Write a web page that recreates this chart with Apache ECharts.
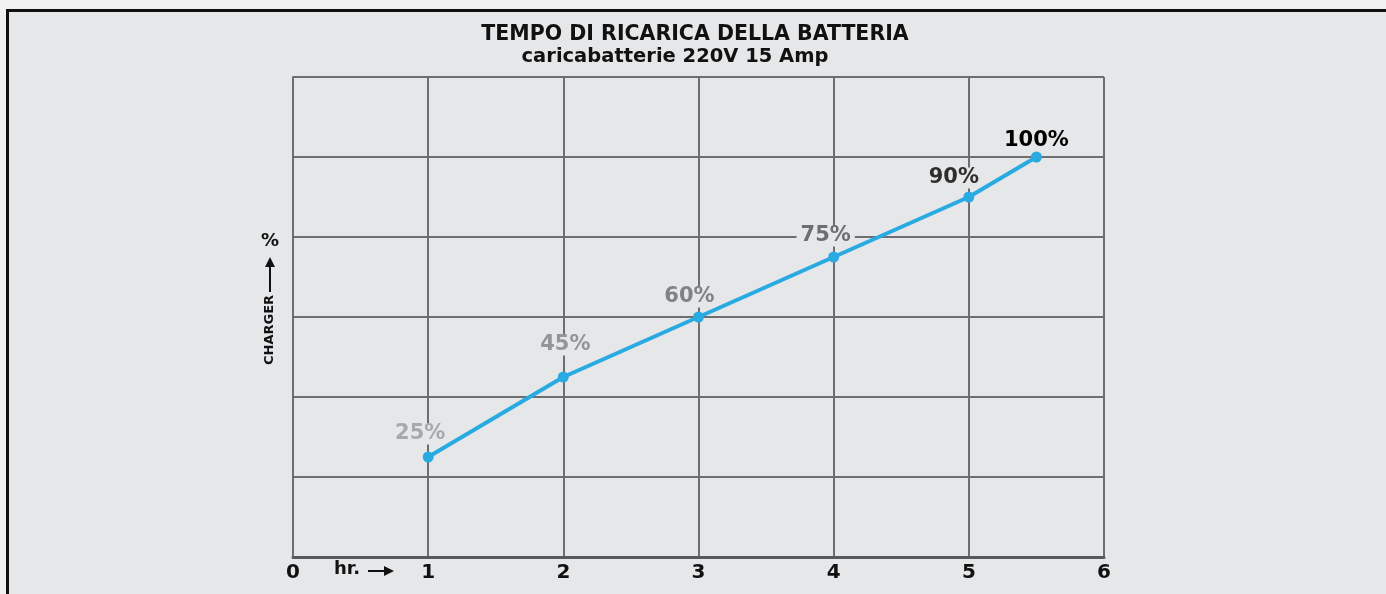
<!DOCTYPE html>
<html>
<head>
<meta charset="utf-8">
<script src="https://cdn.jsdelivr.net/npm/echarts@6/dist/echarts.min.js"></script>
<style>
html,body{margin:0;padding:0;background:#f2f2f2;}
#c{width:1386px;height:594px;}
</style>
</head>
<body>
<div id="c"></div>
<script>
var titleText = 'TEMPO DI RICARICA DELLA BATTERIA';
var subtitleText = 'caricabatterie 220V 15 Amp';
var hours = [1, 2, 3, 4, 5, 5.5];
var chargePct = [25, 45, 60, 75, 90, 100];
var xTickLabels = ['0', '1', '2', '3', '4', '5', '6'];
var yAxisName = 'CHARGER';
var xAxisName = 'hr.';

var labelColors = ['#a7a9ac', '#939598', '#808285', '#6d6e71', '#2e2e2e', '#000000'];
var labelOffsets = [[-8, -3], [2, -12], [-9, 0], [-8, -1], [-15, 1], [0, 4]];

var bg = '#e6e7e9';
var chart = echarts.init(document.getElementById('c'));
var font = '"DejaVu Sans", sans-serif';

var lineData = hours.map(function (h, i) { return [h, chargePct[i]]; });
var labelData = hours.map(function (h, i) {
  return {
    value: [h, chargePct[i]],
    label: {
      color: labelColors[i],
      offset: labelOffsets[i]
    }
  };
});

chart.setOption({
  backgroundColor: bg,
  animation: false,
  grid: { left: 293, right: 282, top: 77, bottom: 37, containLabel: false },
  xAxis: {
    type: 'value', min: 0, max: 6, interval: 1,
    axisLine: { show: true, lineStyle: { color: '#58595b', width: 3 } },
    axisTick: { show: false },
    splitLine: { show: true, lineStyle: { color: '#6d6e70', width: 2 } },
    axisLabel: {
      color: '#111', fontSize: 20, fontWeight: 'bold', fontFamily: font, margin: 6,
      formatter: function (v) { return xTickLabels[Math.round(v)]; }
    }
  },
  yAxis: {
    type: 'value', min: 0, max: 120, interval: 20,
    axisLine: { show: true, lineStyle: { color: '#6d6e70', width: 2 } },
    axisTick: { show: false },
    axisLabel: { show: false },
    splitLine: { show: true, lineStyle: { color: '#6d6e70', width: 2 } }
  },
  series: [{
    type: 'scatter',
    data: labelData,
    symbolSize: 11,
    itemStyle: { color: 'rgba(0,0,0,0)', opacity: 1 },
    silent: true,
    label: {
      show: true, position: 'top', distance: 4, opacity: 1,
      fontSize: 21, fontWeight: 'bold', fontFamily: font,
      backgroundColor: bg, padding: [0, 4],
      formatter: function (p) { return p.value[1] + '%'; }
    },
    z: 3,
    zlevel: 0
  }, {
    type: 'line',
    data: lineData,
    symbol: 'circle',
    symbolSize: 11,
    lineStyle: { color: '#29abe2', width: 4 },
    itemStyle: { color: '#29abe2' },
    label: { show: false },
    z: 10,
    zlevel: 1
  }],
  graphic: [
    { type: 'text', x: 695, y: 35, style: { text: titleText, fill: '#111', font: 'bold 20.5px ' + font, textAlign: 'center', textVerticalAlign: 'middle' } },
    { type: 'text', x: 675, y: 57, style: { text: subtitleText, fill: '#111', font: 'bold 19.5px ' + font, textAlign: 'center', textVerticalAlign: 'middle' } },
    { type: 'text', x: 334, y: 569, style: { text: xAxisName, fill: '#111', font: 'bold 18px ' + font, textVerticalAlign: 'middle' } },
    { type: 'line', shape: { x1: 368, y1: 571, x2: 386, y2: 571 }, style: { stroke: '#111', lineWidth: 2 } },
    { type: 'polygon', shape: { points: [[394, 571], [384, 566], [384, 576]] }, style: { fill: '#111' } },
    { type: 'text', x: 270, y: 365, rotation: Math.PI / 2, style: { text: yAxisName, fill: '#111', font: 'bold 13px ' + font, textAlign: 'left', textVerticalAlign: 'middle' } },
    { type: 'line', shape: { x1: 270, y1: 292, x2: 270, y2: 266 }, style: { stroke: '#111', lineWidth: 2 } },
    { type: 'polygon', shape: { points: [[270, 257], [265, 267], [275, 267]] }, style: { fill: '#111' } },
    { type: 'text', x: 270, y: 241, style: { text: '%', fill: '#111', font: 'bold 18px ' + font, textAlign: 'center', textVerticalAlign: 'middle' } },
    { type: 'rect', shape: { x: 0, y: 0, width: 1386, height: 9 }, style: { fill: '#f2f2f2' } },
    { type: 'rect', shape: { x: 0, y: 0, width: 6, height: 594 }, style: { fill: '#f2f2f2' } },
    { type: 'rect', shape: { x: 6, y: 9, width: 1380, height: 3 }, style: { fill: '#111' } },
    { type: 'rect', shape: { x: 6, y: 9, width: 3, height: 585 }, style: { fill: '#111' } }
  ]
});
</script>
</body>
</html>
